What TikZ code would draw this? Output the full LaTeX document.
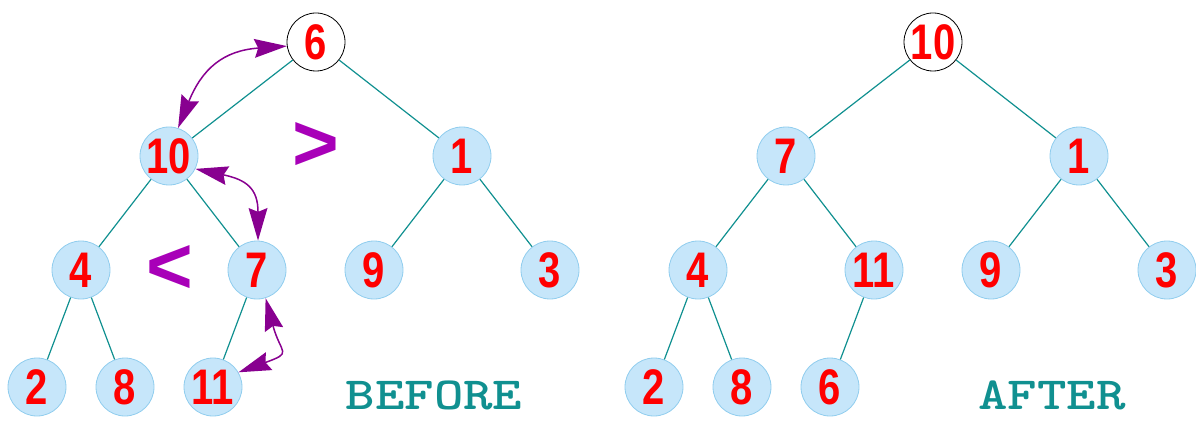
\documentclass[tikz,border=0pt]{standalone}
\usepackage{fontspec}
\usetikzlibrary{arrows.meta}
\newfontfamily\numfont[FakeStretch=0.8]{Liberation Sans}
\newfontfamily\signfont{Liberation Sans}
\definecolor{edgeteal}{HTML}{109090}
\definecolor{nodefill}{HTML}{C6E6FA}
\definecolor{nodeline}{HTML}{90CDEE}
\definecolor{swappurple}{HTML}{880090}
\definecolor{cmppurple}{HTML}{A800B8}
\tikzset{
  heapnode/.style={circle, minimum size=58pt, inner sep=0pt, fill=nodefill, draw=nodeline, line width=0.8pt,
    text=red, font=\numfont\bfseries\fontsize{50}{50}\selectfont},
  rootnode/.style={heapnode, fill=white, draw=black},
  treeedge/.style={draw=edgeteal, line width=1.2pt},
  swaparrow/.style={arrows={Stealth[length=26pt,width=15pt,inset=3pt,scale=1.25]-Stealth[length=26pt,width=15pt,inset=3pt,scale=1.25]},
    draw=swappurple, line width=1.5pt},
  cmpsign/.style={text=cmppurple, inner sep=0pt, font=\signfont\bfseries\fontsize{80}{80}\selectfont},
  caption/.style={text=edgeteal, font=\ttfamily\bfseries\fontsize{46}{46}\selectfont}
}
\newcommand\widecaption[1]{\scalebox{1.22}[1]{#1}}
\begin{document}
\begin{tikzpicture}[x=1pt,y=-1pt]
\useasboundingbox (0,0) rectangle (1196,422);
% heap before the swap
\node[rootnode] (a6) at (316,42) {6};
\node[heapnode] (a10) at (169,156) {10};
\node[heapnode] (a1) at (462,156) {1};
\node[heapnode] (a4) at (81,270) {4};
\node[heapnode] (a7) at (257,270) {7};
\node[heapnode] (a9) at (374,270) {9};
\node[heapnode] (a3) at (550,270) {3};
\node[heapnode] (a2) at (37,387) {2};
\node[heapnode] (a8) at (125,387) {8};
\node[heapnode] (a11) at (213,387) {11};
\foreach \p/\c in {a6/a10,a6/a1,a10/a4,a10/a7,a1/a9,a1/a3,a4/a2,a4/a8,a7/a11}
  \draw[treeedge] (\p) -- (\c);
\draw[swaparrow] (a6.188) to[out=184,in=68,looseness=1.2] (a10.72);
\draw[swaparrow] (a10.334) to[out=-12,in=90,looseness=1.4] (a7.88);
\draw[swaparrow] (a7.287) to[out=-75,in=20,looseness=1.9] (a11.30);
\node[cmpsign] (gt) at (316,146) {>};
\node[cmpsign] (lt) at (170,269) {<};
\node[caption] (before) at (434,395) {\widecaption{BEFORE}};
% heap after the swap
\node[rootnode] (b10) at (933,42) {10};
\node[heapnode] (b7) at (786,156) {7};
\node[heapnode] (b1) at (1079,156) {1};
\node[heapnode] (b4) at (698,270) {4};
\node[heapnode] (b11) at (874,270) {11};
\node[heapnode] (b9) at (991,270) {9};
\node[heapnode] (b3) at (1167,270) {3};
\node[heapnode] (b2) at (654,387) {2};
\node[heapnode] (b8) at (742,387) {8};
\node[heapnode] (b6) at (830,387) {6};
\foreach \p/\c in {b10/b7,b10/b1,b7/b4,b7/b11,b1/b9,b1/b3,b4/b2,b4/b8,b11/b6}
  \draw[treeedge] (\p) -- (\c);
\node[caption] (after) at (1052,395) {\widecaption{AFTER}};
\end{tikzpicture}
\end{document}
